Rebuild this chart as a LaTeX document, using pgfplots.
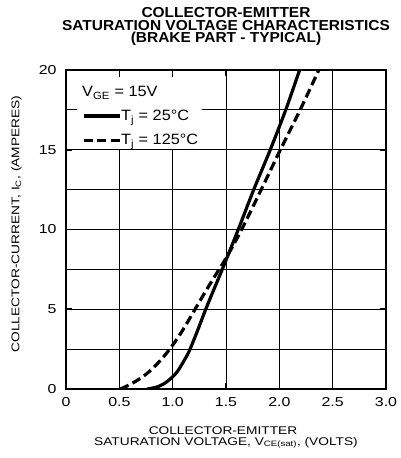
\documentclass[border=0pt]{standalone}
\usepackage{fontspec}
\setmainfont{Liberation Sans}
\newfontfamily\lblfont{Liberation Sans}[FakeStretch=1.23]
\newfontfamily\ttlfont{Liberation Sans}[FakeStretch=1.07]
\newfontfamily\lgdfont{Liberation Sans}[FakeStretch=1.09]
\usepackage{pgfplots}
\pgfplotsset{compat=1.18}
\pgfplotstableread{
x y
0.76 0
0.85 0.12
0.93 0.38
1.00 0.77
1.05 1.15
1.10 1.7
1.15 2.3
1.20 3.1
1.25 3.95
1.31 5.0
1.39 6.3
1.465 7.5
1.615 10
1.76 12.5
1.915 15
2.06 17.5
2.19 20
}\solid
\pgfplotstableread{
x y
0.51 0
0.60 0.28
0.70 0.68
0.79 1.15
0.90 1.9
1.00 2.75
1.10 3.75
1.21 5.0
1.32 6.25
1.435 7.5
1.50 8.2
1.647 10
1.83 12.5
2.01 15
2.195 17.5
2.37 20
}\dashed
\begin{document}
\begin{tikzpicture}
\path[use as bounding box] (-66bp,-69bp) rectangle (335bp,389bp);
\begin{axis}[
  at={(0,0)}, anchor=south west,
  scale only axis, width=320bp, height=319bp,
  xmin=0, xmax=3, ymin=0, ymax=20,
  xtick={0,0.5,1,1.5,2,2.5,3},
  xticklabels={0,0.5,1.0,1.5,2.0,2.5,3.0},
  ytick={0,5,10,15,20},
  minor ytick={2.5,7.5,12.5,17.5},
  grid=both,
  grid style={line width=0.8bp, black},
  minor grid style={line width=0.8bp, black},
  axis line style={line width=1.6bp},
  tick align=inside, major tick length=6bp, minor tick length=0pt,
  major tick style={line width=1.6bp, black},
  /pgf/number format/assume math mode=true,
  ticklabel style={font=\lblfont\fontsize{13}{15}\selectfont},
  xticklabel style={yshift=-5bp},
  yticklabel style={xshift=-6bp},
  legend style={at={(rel axis cs:0,1)}, anchor=north west, xshift=16bp, yshift=-40bp,
    draw=none, fill=none, inner sep=0pt, outer sep=0pt, row sep=12.5bp,
    font=\lgdfont\fontsize{15}{17}\selectfont,
    nodes={inner sep=0pt, outer sep=0pt}},
  legend cell align=left,
  legend image code/.code={\draw[#1] (0bp,0bp) -- (36bp,0bp);},
]
\fill[white] (axis cs:0.103,15.05) rectangle (axis cs:1.275,19.55);
\addplot[black, line width=3.2bp, smooth, tension=0.5] table[x=x,y=y] {\solid};
\addlegendentry{T\textsubscript{j} = 25°C}
\addplot[black, line width=3.2bp, dash pattern=on 9bp off 4.5bp, smooth, tension=0.5] table[x=x,y=y] {\dashed};
\addlegendentry{T\textsubscript{j} = 125°C}
\end{axis}
\node[anchor=base west, inner sep=0pt, font=\lgdfont\fontsize{15}{17}\selectfont] at (16bp,292bp) {V\textsubscript{GE} = 15V};
\node[anchor=base, inner sep=0pt, align=center, font=\ttlfont\bfseries\fontsize{14.5}{13}\selectfont] at (160bp,346bp)
  {COLLECTOR-EMITTER\\SATURATION VOLTAGE CHARACTERISTICS\\(BRAKE PART - TYPICAL)};
\begin{scope}[every node/.style={anchor=base, inner sep=0pt, font=\lblfont\fontsize{11.2}{13}\selectfont}]
\node at (157bp,-45.5bp) {COLLECTOR-EMITTER};
\node at (160bp,-56bp) {SATURATION VOLTAGE, V\textsubscript{CE(sat)}, (VOLTS)};
\node[rotate=90] at (-46.5bp,165bp) {COLLECTOR-CURRENT, I\textsubscript{C}, (AMPERES)};
\end{scope}
\end{tikzpicture}
\end{document}
